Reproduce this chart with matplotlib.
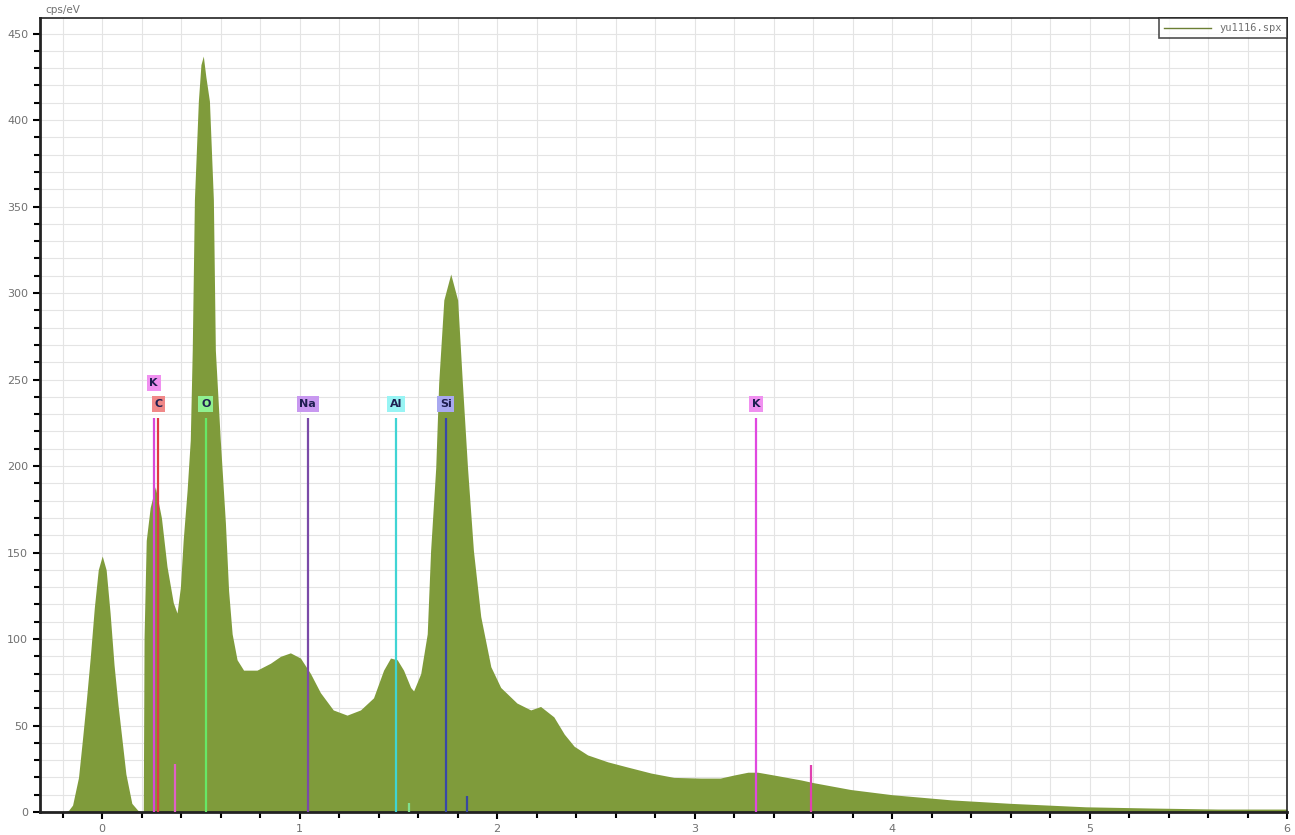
import numpy as np
import matplotlib
matplotlib.use('Agg')
import matplotlib.pyplot as plt
from matplotlib.ticker import MultipleLocator

#spectrum read-out (keV, cps/eV)
energy = [-0.31, -0.2, -0.17, -0.15, -0.12, -0.1, -0.08, -0.06, -0.04, -0.02, 0.0,
          0.02, 0.04, 0.06, 0.08, 0.1, 0.12, 0.15, 0.18, 0.205, 0.208, 0.212,
          0.223, 0.243, 0.269, 0.30, 0.328, 0.36, 0.379, 0.396, 0.41, 0.43,
          0.446, 0.456, 0.467, 0.487, 0.50, 0.512, 0.525, 0.543, 0.563, 0.573,
          0.598, 0.624, 0.64, 0.658, 0.683, 0.716, 0.784, 0.852, 0.903, 0.953,
          1.004, 1.055, 1.105, 1.17, 1.24, 1.308, 1.374, 1.425, 1.46, 1.494,
          1.526, 1.562, 1.577, 1.613, 1.646, 1.663, 1.689, 1.704, 1.73, 1.765,
          1.80, 1.824, 1.85, 1.88, 1.917, 1.968, 2.018, 2.10, 2.17, 2.22,
          2.287, 2.34, 2.39, 2.458, 2.56, 2.66, 2.78, 2.895, 3.03, 3.13, 3.20,
          3.27, 3.32, 3.40, 3.54, 3.6, 3.79, 4.0, 4.3, 4.6, 4.98, 5.31, 5.65, 6.0]
counts = [0, 0, 1, 4, 20, 42, 65, 90, 118, 140, 148,
          140, 115, 85, 62, 42, 22, 5, 1, 0, 0, 101,
          157, 176, 188, 170, 142, 121, 115, 130, 157, 186,
          215, 267, 354, 411, 432, 437, 425, 411, 354, 267,
          215, 167, 128, 103, 88, 82, 82, 86, 90, 92,
          89, 80, 69, 59, 56, 59, 66, 82, 89, 88,
          82, 72, 70, 80, 103, 151, 199, 248, 296, 311,
          296, 248, 199, 151, 113, 84, 72, 63, 59, 61,
          55, 45, 38, 33, 29, 26, 22.5, 20, 19.6, 19.6, 21.4,
          23, 23, 21.4, 18.5, 17, 13, 10, 7, 5, 3, 2.3, 1.7, 1.7]

#element markers
elements = ['K', 'C', 'O', 'Na', 'Al', 'Si', 'K']
elem_energy = [0.26, 0.285, 0.525, 1.041, 1.486, 1.74, 3.313]
elem_height = [228, 228, 228, 228, 228, 228, 228]
label_level = [248, 236, 236, 236, 236, 236, 236]
line_colors = ['#d848d8', '#e03848', '#66e866', '#7a4aa8', '#40d4d4', '#3848a8', '#e048e0']
box_colors = ['#f090f0', '#f08888', '#90f090', '#c898f0', '#98f4f4', '#a8a8f0', '#f090f0']

#minor lines near the baseline
minor_energy = [0.37, 1.556, 1.846, 3.59]
minor_height = [28, 5, 9, 27]
minor_colors = ['#e060c8', '#80e090', '#3848a0', '#e040b0']

fig = plt.figure(figsize=(12.95, 8.35), dpi=100)
ax = fig.add_axes([40/1295, 23/835, 1247/1295, 794/835])

ax.fill_between(energy, counts, color='#7f9b3b', linewidth=0, zorder=2)
ax.plot([], [], color='#6b7f33', lw=1, label='yu1116.spx')

for e, h, c in zip(minor_energy, minor_height, minor_colors):
    ax.vlines(e, 0, h, color=c, lw=1.6, zorder=3)

for name, e, h, lv, lc, bc in zip(elements, elem_energy, elem_height,
                                    label_level, line_colors, box_colors):
    ax.vlines(e, 0, h, color=lc, lw=1.6, zorder=3)
    ax.text(e, lv, name, ha='center', va='center', fontsize=8, fontweight='bold',
            color='#1e1e50', zorder=5,
            bbox=dict(boxstyle='square,pad=0.25', fc=bc, ec='none'))

ax.set_xlim(-0.315, 6.0)
ax.set_ylim(0, 459)

ax.xaxis.set_major_locator(MultipleLocator(1))
ax.xaxis.set_minor_locator(MultipleLocator(0.2))
ax.yaxis.set_major_locator(MultipleLocator(50))
ax.yaxis.set_minor_locator(MultipleLocator(10))

ax.grid(which='both', color='#e4e4e4', lw=0.8, zorder=0)
ax.set_axisbelow(True)

ax.tick_params(which='both', direction='out', color='black', width=1.5,
               labelsize=8, labelcolor='#707070')
ax.tick_params(which='major', length=5)
ax.tick_params(which='minor', length=4)
ax.tick_params(axis='x', pad=4)

for s in ax.spines.values():
    s.set_color('#222222')
    s.set_linewidth(1.2)
ax.spines['left'].set_linewidth(2)
ax.spines['bottom'].set_linewidth(2)

fig.text(45/1295, 1 - 10/835, 'cps/eV', fontsize=7.5, color='#707070', va='center')

leg = ax.legend(loc='upper right', borderaxespad=0, fancybox=False, handlelength=4.5,
                prop={'family': 'DejaVu Sans Mono', 'size': 7.5}, borderpad=0.5)
leg.get_frame().set_edgecolor('#222222')
leg.get_frame().set_linewidth(1.2)
for t in leg.get_texts():
    t.set_color('#707070')

fig.savefig('out.png', dpi=100)
